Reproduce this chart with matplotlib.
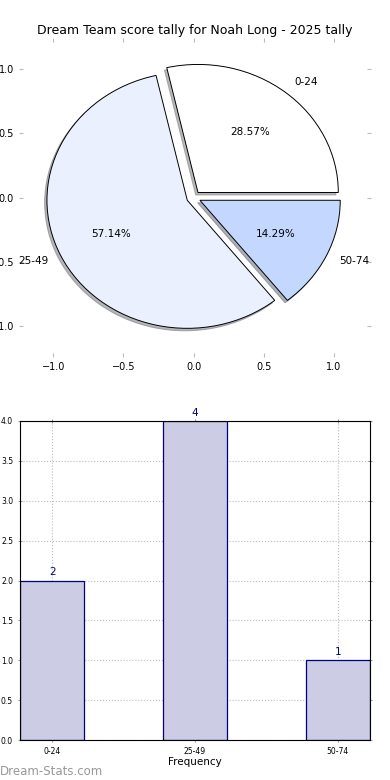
import matplotlib
matplotlib.use("Agg")
import matplotlib.pyplot as plt

# data
categories = ['0-24', '25-49', '50-74']
counts = [2, 4, 1]
pie_colors = ['#FFFFFF', '#EAF0FD', '#C4D8FF']
explode = [0.05, 0.05, 0.05]

fig = plt.figure(figsize=(3.9, 7.8), dpi=100)

# pie chart
ax1 = fig.add_axes([21 / 390, 1 - 355 / 780, 348 / 390, 315 / 780])
ax1.pie(counts, labels=categories, colors=pie_colors, explode=explode,
        autopct='%1.2f%%', startangle=0, frame=True,
        shadow={'ox': -0.012, 'oy': -0.014, 'shade': 0.55},
        wedgeprops={'edgecolor': 'black', 'linewidth': 0.7},
        textprops={'fontsize': 7.5})
ax1.set_aspect('auto')
ax1.set_xlim(-1.23, 1.25)
ax1.set_ylim(-1.23, 1.23)
ax1.set_xticks([-1.0, -0.5, 0.0, 0.5, 1.0])
ax1.set_yticks([-1.0, -0.5, 0.0, 0.5, 1.0])
for s in ax1.spines.values():
    s.set_visible(False)
ax1.tick_params(axis='both', colors='#BBBBBB', labelcolor='black',
                labelsize=7, length=3, top=True, right=True, direction='inout')
ax1.set_title('Dream Team score tally for Noah Long - 2025 tally', fontsize=9, pad=4)

# bar chart
ax2 = fig.add_axes([20 / 390, 1 - 740 / 780, 350 / 390, 319 / 780])
x = list(range(len(categories)))
bars = ax2.bar(x, counts, width=0.45, color='#CCCCE5', edgecolor='#000080', linewidth=0.9)
ax2.set_xlim(-0.225, 2.225)
ax2.set_ylim(0, 4)
ax2.set_yticks([0, 0.5, 1.0, 1.5, 2.0, 2.5, 3.0, 3.5, 4.0])
ax2.set_xticks(x)
ax2.set_xticklabels(categories)
ax2.tick_params(axis='both', labelsize=5.5, colors='#999999', labelcolor='black',
                length=3, top=True, right=True, direction='inout')
ax2.grid(True, linestyle=':', color='#BBBBBB', linewidth=0.8)
ax2.set_axisbelow(True)
ax2.set_xlabel('Frequency', fontsize=7.5, labelpad=1)
for xi, c in zip(x, counts):
    ax2.text(xi, c + 0.04, str(c), ha='center', va='bottom', fontsize=7.5, color='#000080')

fig.text(0.0, 0.003, 'Dream-Stats.com', fontsize=8.5, color='#999999',
         ha='left', va='bottom')

fig.savefig('out.png', dpi=100)
